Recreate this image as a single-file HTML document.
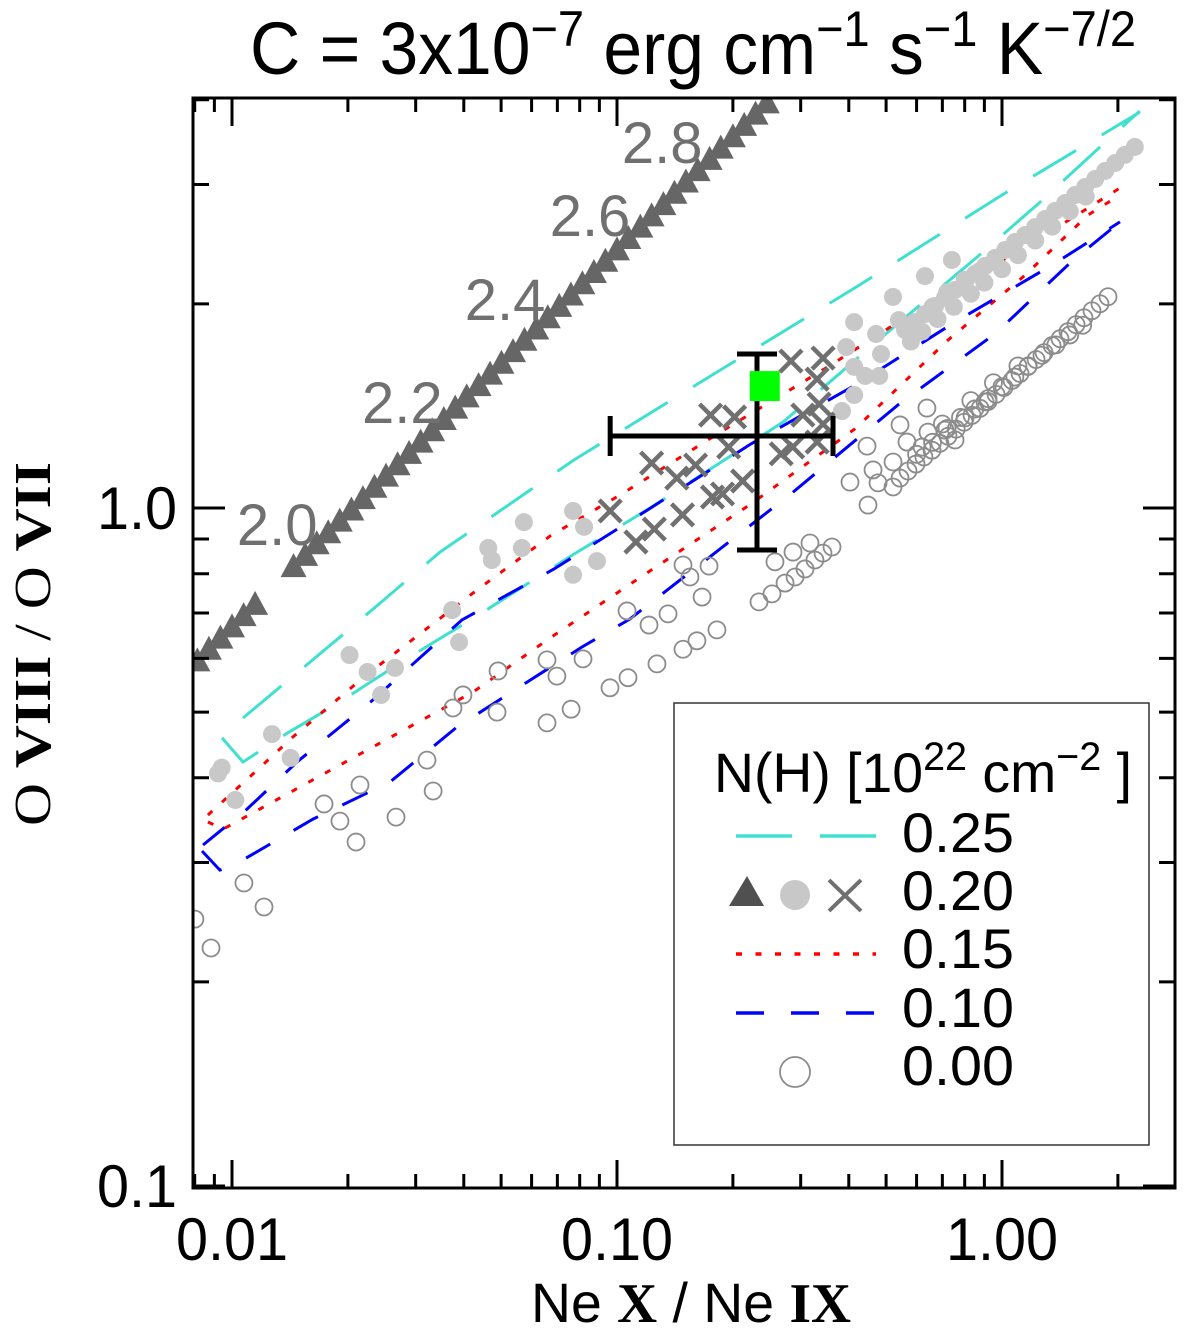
<!DOCTYPE html>
<html><head><meta charset="utf-8"><style>
html,body{margin:0;padding:0;background:#fff}
svg{display:block}
</style></head><body>
<svg id="chart" width="1200" height="1336" viewBox="0 0 1200 1336" xmlns="http://www.w3.org/2000/svg">
<text x="250" y="74" font-family="'Liberation Sans', sans-serif" font-size="74" textLength="886" lengthAdjust="spacingAndGlyphs">C = 3x10<tspan dy="-28" font-size="50">−7</tspan><tspan dy="28"> erg cm</tspan><tspan dy="-28" font-size="50">−1</tspan><tspan dy="28"> s</tspan><tspan dy="-28" font-size="50">−1</tspan><tspan dy="28"> K</tspan><tspan dy="-28" font-size="50">−7/2</tspan></text>
<g id="plot"></g>
<text transform="translate(50,826) rotate(-90)" font-family="'Liberation Serif', serif" font-size="52" textLength="364" lengthAdjust="spacingAndGlyphs">O <tspan font-weight="bold">VIII</tspan> / O <tspan font-weight="bold">VII</tspan></text>
<text x="531" y="1322" font-family="'Liberation Sans', sans-serif" font-size="56" textLength="320" lengthAdjust="spacingAndGlyphs">Ne <tspan font-family="'Liberation Serif', serif" font-weight="bold">X</tspan> / Ne <tspan font-family="'Liberation Serif', serif" font-weight="bold">IX</tspan></text>
</svg>
<script>
// ---- data ----
const triX=[0.00813,0.00871,0.00933,0.0100,0.01072,0.01148,0.01445,0.01549,0.0166,0.01778,0.01905,0.02042,0.02188,0.02344,0.02512,0.02692,0.02884,0.0309,0.0331,0.0355,0.0380,0.0407,0.0437,0.0468,0.0501,0.0537,0.0575,0.0617,0.0661,0.0708,0.0759,0.0813,0.0871,0.0933,0.100,0.107,0.115,0.123,0.132,0.141,0.151,0.162,0.174,0.186,0.200,0.214,0.229,0.245];
const triY=[0.596,0.620,0.644,0.669,0.695,0.722,0.821,0.853,0.887,0.921,0.958,0.995,1.034,1.075,1.116,1.160,1.206,1.253,1.302,1.353,1.406,1.461,1.518,1.578,1.638,1.704,1.771,1.840,1.911,1.987,2.065,2.145,2.229,2.316,2.407,2.502,2.600,2.701,2.807,2.917,3.031,3.150,3.273,3.401,3.534,3.673,3.817,3.966];
const dotX=[0.0092,0.0094,0.0102,0.0127,0.0142,0.0202,0.0225,0.0244,0.0265,0.0373,0.0389,0.0463,0.0473,0.0573,0.0566,0.0769,0.0821,0.0887,0.0769,0.413,0.521,0.631,0.741,0.471,0.540,0.394,0.413,0.441,0.480,0.413,0.384,0.485,0.560,0.594,0.631,0.670,0.711,0.755,0.802,0.851,0.904,0.960,1.019,1.081,1.148,1.219,1.294,1.374,1.459,1.549,1.644,1.746,1.853,1.968,2.085,2.213,0.58,0.62,0.68,0.75,0.83,0.90,1.00,1.10,1.22,1.35,1.50,1.65,0.66,0.72,0.80,0.88];
const dotY=[0.406,0.414,0.371,0.464,0.428,0.607,0.573,0.530,0.581,0.707,0.634,0.873,0.838,0.953,0.873,0.990,0.938,0.835,0.797,1.880,2.048,2.198,2.322,1.806,1.893,1.727,1.615,1.566,1.566,1.468,1.390,1.687,1.830,1.880,1.932,1.986,2.041,2.097,2.155,2.214,2.275,2.338,2.402,2.468,2.527,2.596,2.668,2.742,2.817,2.895,2.975,3.057,3.141,3.228,3.317,3.408,1.76,1.82,1.90,1.98,2.07,2.15,2.25,2.36,2.48,2.60,2.74,2.88,1.98,2.08,2.17,2.24];
const crossX=[0.283,0.343,0.331,0.175,0.202,0.335,0.304,0.343,0.195,0.286,0.267,0.331,0.123,0.143,0.160,0.212,0.177,0.188,0.148,0.0960,0.112,0.125];
const crossY=[1.647,1.664,1.549,1.371,1.362,1.423,1.371,1.330,1.230,1.230,1.202,1.251,1.165,1.107,1.157,1.096,1.038,1.049,0.977,0.990,0.891,0.931];
const openX=[0.00801,0.00882,0.01074,0.01211,0.01734,0.01907,0.0210,0.0215,0.02667,0.0321,0.0333,0.0375,0.0398,0.0488,0.0491,0.0658,0.0698,0.0658,0.0760,0.0816,0.0959,0.1068,0.1062,0.1211,0.1357,0.127,0.1484,0.1613,0.1818,0.1663,0.1484,0.1547,0.1734,0.2338,0.2527,0.2732,0.290,0.3078,0.3267,0.3428,0.3618,0.2572,0.2865,0.3172,0.4029,0.4487,0.4461,0.4624,0.4764,0.5212,0.5212,0.5434,0.5665,0.6383,0.6422,0.711,0.802,0.904,0.755,0.5434,0.570,0.598,0.627,0.658,0.690,0.724,0.760,0.797,0.836,0.877,0.920,0.965,1.012,1.062,1.114,1.168,1.226,1.286,1.349,1.415,1.484,1.557,1.633,1.713,1.797,1.885,0.60,0.66,0.72,0.78,0.85,0.92,1.00,1.08,1.17,1.27,1.38,1.50,1.62,0.62,0.70,0.83,0.95,1.10];
const openY=[0.2475,0.2244,0.2798,0.2579,0.366,0.3453,0.3216,0.3903,0.350,0.4248,0.3825,0.507,0.530,0.500,0.575,0.597,0.565,0.482,0.505,0.599,0.543,0.562,0.705,0.672,0.698,0.589,0.619,0.637,0.661,0.739,0.824,0.791,0.821,0.727,0.747,0.775,0.791,0.813,0.838,0.858,0.876,0.833,0.861,0.888,1.092,1.010,1.234,1.138,1.089,1.074,1.169,1.326,1.251,1.404,1.294,1.303,1.358,1.434,1.260,1.107,1.134,1.161,1.189,1.217,1.246,1.276,1.307,1.338,1.370,1.403,1.436,1.471,1.506,1.542,1.579,1.617,1.656,1.695,1.736,1.777,1.820,1.864,1.908,1.954,2.001,2.049,1.20,1.25,1.31,1.36,1.40,1.45,1.51,1.56,1.62,1.68,1.74,1.80,1.86,1.23,1.33,1.44,1.53,1.62];
const cyanAX=[0.01068,0.0202,0.0347,0.0773,0.182,0.426,1.000,2.280];
const cyanAY=[0.490,0.663,0.861,1.177,1.587,2.132,2.895,3.837];
const cyanBX=[0.00942,0.01068,0.01396,0.0185,0.0281,0.0433,0.0773,0.122,0.270,0.527,0.856,1.240,1.797,2.280];
const cyanBY=[0.458,0.422,0.466,0.512,0.597,0.693,0.855,1.000,1.339,1.855,2.337,2.808,3.408,3.851];
const redAX=[0.00866,0.01134,0.01440,0.02215,0.0433,0.0670,0.1030,0.184,0.3595,0.553,0.856,1.317,2.025];
const redAY=[0.3525,0.4053,0.4596,0.565,0.757,0.909,1.049,1.290,1.625,1.900,2.199,2.544,2.965];
const redBX=[0.00866,0.00948,0.01332,0.0206,0.0295,0.0423,0.0670,0.1134,0.2229,0.415,0.7244,1.141,1.673,2.025];
const redBY=[0.3443,0.336,0.3735,0.428,0.4786,0.5353,0.643,0.786,1.014,1.308,1.769,2.199,2.705,2.895];
const blueAX=[0.00841,0.01094,0.01475,0.02323,0.0396,0.0686,0.1189,0.2229,0.425,0.755,1.349,2.025];
const blueAY=[0.3184,0.3597,0.422,0.521,0.684,0.813,0.990,1.243,1.529,1.881,2.282,2.642];
const blueBX=[0.00836,0.0093,0.01068,0.01623,0.02573,0.0384,0.0811,0.108,0.283,0.540,0.965,1.520,2.025];
const blueBY=[0.312,0.2924,0.3027,0.3477,0.3943,0.4753,0.6237,0.686,1.049,1.423,1.812,2.313,2.642];
const tempLabels=["2.0","2.2","2.4","2.6","2.8"];
const tempLabelX=[0.0131,0.0277,0.0512,0.0851,0.131];
const tempLabelY=[0.882,1.335,1.893,2.518,3.227];
const obsX=[0.231], obsXlo=[0.096], obsXhi=[0.364];
const obsY=[1.277], obsYlo=[0.867], obsYhi=[1.687];
const modelX=[0.242], modelY=[1.513];
const xTickLabels=["0.01","0.10","1.00"];
const xTickVals=[0.01,0.1,1];
const yTickLabels=["0.1","1.0"];
const yTickVals=[0.1,1];

// ---- axes ----
const L=193,R=1175,T=98,B=1188;
function X(v){return 232+385*(Math.log10(v)+2);}
function Y(v){return 508-678*Math.log10(v);}
const NS="http://www.w3.org/2000/svg";
const plot=document.getElementById('plot');
function mk(tag,attrs,parent){const e=document.createElementNS(NS,tag);for(const k in attrs)e.setAttribute(k,attrs[k]);(parent||plot).appendChild(e);return e;}

const defs=mk('defs',{});
const cp=mk('clipPath',{id:'clip'},defs);mk('rect',{x:L,y:T,width:R-L,height:B-T},cp);
const gData=mk('g',{'clip-path':'url(#clip)'});



function poly(xs,ys,stroke,dash,name){
  const pts=xs.map((v,i)=>X(v).toFixed(1)+','+Y(ys[i]).toFixed(1)).join(' ');
  const p=mk('polyline',{points:pts,fill:'none',stroke:stroke,'stroke-width':3,'stroke-dasharray':dash},gData);
  
  
}
poly(cyanAX,cyanAY,'#40e0d0','50 30','nh025-line-upper');
poly(cyanBX,cyanBY,'#40e0d0','50 30','nh025-line-lower');
poly(redAX,redAY,'#ff0000','6 13','nh015-line-upper');
poly(redBX,redBY,'#ff0000','6 13','nh015-line-lower');
poly(blueAX,blueAY,'#0000ff','28 27','nh010-line-upper');
poly(blueBX,blueBY,'#0000ff','28 27','nh010-line-lower');

openX.forEach((v,i)=>{
  const c=mk('circle',{cx:X(v),cy:Y(openY[i]),r:8.5,fill:'none',stroke:'#8c8c8c','stroke-width':1.8},gData);
  
  
});
dotX.forEach((v,i)=>{
  const c=mk('circle',{cx:X(v),cy:Y(dotY[i]),r:9,fill:'#c8c8c8'},gData);
  
  
});
triX.forEach((v,i)=>{
  const cx=X(v),cy=Y(triY[i]);
  const t=mk('polygon',{points:`${cx-13},${cy+11} ${cx+13},${cy+11} ${cx},${cy-13}`,fill:'#666'},gData);
  
  
});
crossX.forEach((v,i)=>{
  const cx=X(v),cy=Y(crossY[i]),s=11;
  const g=mk('path',{d:`M${cx-s},${cy-s}L${cx+s},${cy+s}M${cx-s},${cy+s}L${cx+s},${cy-s}`,stroke:'#707070','stroke-width':4.5,fill:'none'},gData);
  
  
});
tempLabels.forEach((s,i)=>{
  const t=mk('text',{x:X(tempLabelX[i]),y:Y(tempLabelY[i]),'font-family':"'Liberation Sans', sans-serif",'font-size':58,fill:'#707070','text-anchor':'middle'},gData);
  t.textContent=s;
  
  
});
obsX.forEach((v,i)=>{
  const cx=X(v),cy=Y(obsY[i]),x1=X(obsXlo[i]),x2=X(obsXhi[i]),y1=Y(obsYhi[i]),y2=Y(obsYlo[i]);
  const e=mk('path',{d:`M${x1},${cy}H${x2}M${x1},${cy-20}V${cy+20}M${x2},${cy-20}V${cy+20}M${cx},${y1}V${y2}M${cx-20},${y1}H${cx+20}M${cx-20},${y2}H${cx+20}`,stroke:'#000','stroke-width':5,fill:'none'},gData);
  
  
});
modelX.forEach((v,i)=>{
  const r=mk('rect',{x:X(v)-15,y:Y(modelY[i])-15,width:30,height:30,fill:'#00ff00'},gData);
  
  
});

const frame=mk('rect',{x:L,y:T,width:R-L,height:B-T,fill:'none',stroke:'#000','stroke-width':3});


let td='';
for(let d=-3;d<=0;d++){for(let m=1;m<=9;m++){const v=m*Math.pow(10,d);const x=X(v);if(x<=L+1||x>=R-1)continue;const len=(m===1)?28:14;td+=`M${x},${B}v${-len}M${x},${T}v${len}`;}}
for(let d=-1;d<=0;d++){for(let m=1;m<=9;m++){const v=m*Math.pow(10,d);const y=Y(v);if(y<=T+1||y>=B-1)continue;const len=(m===1)?32:16;td+=`M${L},${y}h${len}M${R},${y}h${-len}`;}}
const ticks=mk('path',{d:td,stroke:'#000','stroke-width':3,fill:'none'});


xTickLabels.forEach((s,i)=>{
  const t=mk('text',{x:X(xTickVals[i])-56,y:1260,'font-family':"'Liberation Sans', sans-serif",'font-size':60,textLength:112,lengthAdjust:'spacingAndGlyphs'});
  t.textContent=s;
  
  
});
yTickLabels.forEach((s,i)=>{
  const t=mk('text',{x:97,y:Y(yTickVals[i])+21,'font-family':"'Liberation Sans', sans-serif",'font-size':60,textLength:80,lengthAdjust:'spacingAndGlyphs'});
  t.textContent=s;
  
  
});

const lg=mk('g',{});


mk('rect',{x:674,y:703,width:475,height:442,fill:'#fff',stroke:'#333','stroke-width':1.5},lg);
const lt=mk('text',{x:714,y:792,'font-family':"'Liberation Sans', sans-serif",'font-size':56,textLength:418,lengthAdjust:'spacingAndGlyphs'},lg);
lt.innerHTML='N(H) [10<tspan dy="-22" font-size="40">22</tspan><tspan dy="22"> cm</tspan><tspan dy="-22" font-size="40">−2</tspan><tspan dy="22"> ]</tspan>';


const legLabels=["0.25","0.20","0.15","0.10","0.00"];
const legY=[852,910,968,1027,1085];
legLabels.forEach((s,i)=>{
  const t=mk('text',{x:902,y:legY[i],'font-family':"'Liberation Sans', sans-serif",'font-size':56,textLength:112,lengthAdjust:'spacingAndGlyphs'},lg);
  t.textContent=s;
  
  
});
mk('line',{x1:736,y1:836,x2:876,y2:836,stroke:'#40e0d0','stroke-width':3.5,'stroke-dasharray':'56 28'},lg);
mk('polygon',{points:'729,906 764,906 747,876',fill:'#505050'},lg);
mk('circle',{cx:795,cy:895,r:15,fill:'#c8c8c8'},lg);
mk('path',{d:'M829,880L861,911M829,911L861,880',stroke:'#707070','stroke-width':4,fill:'none'},lg);
mk('line',{x1:736,y1:954,x2:876,y2:954,stroke:'#ff0000','stroke-width':3.5,'stroke-dasharray':'6 13.5'},lg);
mk('line',{x1:736,y1:1013,x2:876,y2:1013,stroke:'#0000ff','stroke-width':3.5,'stroke-dasharray':'28 27'},lg);
mk('circle',{cx:795,cy:1072,r:15,fill:'none',stroke:'#8c8c8c','stroke-width':1.8},lg);
</script>
</body></html>
